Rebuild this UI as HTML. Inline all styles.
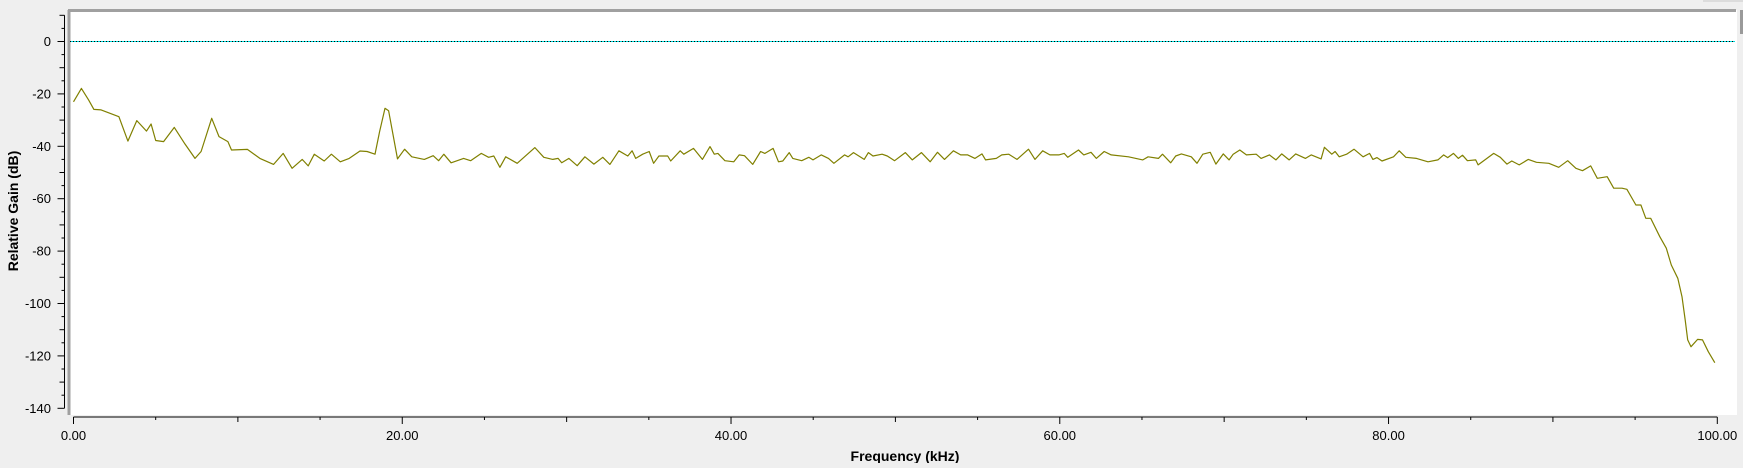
<!DOCTYPE html>
<html><head><meta charset="utf-8">
<style>
html,body{margin:0;padding:0;background:#efefef;}
body{width:1743px;height:463px;overflow:hidden;font-family:"Liberation Sans",sans-serif;}
svg text{font-family:"Liberation Sans",sans-serif;}
</style></head>
<body>
<svg id="chart" width="1743" height="463" xmlns="http://www.w3.org/2000/svg">
  <rect x="68" y="10" width="1669" height="405" fill="#ffffff"/>
  <line x1="69" y1="10" x2="69" y2="415" stroke="#a0a0a0" stroke-width="3"/>
  <line x1="68" y1="10.5" x2="1736" y2="10.5" stroke="#a0a0a0" stroke-width="3"/>
  <rect x="1740" y="10" width="3" height="24" fill="#9a9a9a"/>
  <rect x="1703" y="0" width="40" height="2" fill="#dcdcdc"/>
  <g id="axes"></g>
  <g id="series"></g>
  <text x="0" y="0" transform="translate(18,211) rotate(-90)" text-anchor="middle" font-size="14" font-weight="bold" fill="#000">Relative Gain (dB)</text>
  <text x="905" y="461" text-anchor="middle" font-size="14" font-weight="bold" fill="#000">Frequency (kHz)</text>
</svg>
<script>
const freqs = [0,0.48,0.92,1.24,1.68,2.22,2.76,3.31,3.85,4.44,4.72,5.0,5.48,6.13,6.78,7.39,7.76,8.41,8.85,9.39,9.61,10.58,11.34,12.17,12.76,13.3,13.91,14.28,14.65,15.25,15.69,16.23,16.77,17.43,17.86,18.34,18.62,18.95,19.17,19.71,20.14,20.58,21.34,21.88,22.21,22.53,22.97,23.73,24.16,24.81,25.25,25.57,25.94,26.29,26.99,28.07,28.61,29.16,29.48,29.7,30.14,30.64,31.11,31.66,32.2,32.63,33.18,33.72,33.98,34.2,34.63,35.02,35.29,35.61,36.15,36.33,36.91,37.13,37.72,38.26,38.72,38.98,39.2,39.63,40.17,40.5,40.82,41.32,41.8,42.06,42.56,42.89,43.15,43.54,43.76,44.3,44.73,44.99,45.49,45.93,46.26,46.91,47.12,47.45,48.1,48.36,48.64,49.19,49.51,49.95,50.6,51.03,51.58,52.12,52.56,52.99,53.53,53.97,54.4,54.84,55.27,55.49,56.14,56.47,56.9,57.4,58.1,58.49,58.96,59.4,59.94,60.27,60.49,61.14,61.46,61.9,62.22,62.7,63.13,64.18,65.05,65.37,66,66.25,66.75,67.05,67.4,68,68.35,68.7,69.15,69.5,69.95,70.3,70.55,70.95,71.35,71.95,72.25,72.75,73.15,73.5,73.95,74.35,74.95,75.3,75.9,76.1,76.55,76.75,77,77.45,77.9,78.45,78.85,79.05,79.3,79.6,80.3,80.65,81.05,81.7,82.4,83,83.35,83.6,83.95,84.25,84.5,84.8,85.3,85.45,86.4,86.8,87.2,87.5,87.95,88.5,89,89.75,90.35,90.9,91.4,91.8,92.3,92.7,93.3,93.7,94.2,94.5,95.05,95.35,95.65,95.95,96.5,96.9,97.2,97.6,97.85,98.05,98.2,98.4,98.8,99.1,99.45,99.85];
const gains = [-23,-17.9,-22.3,-25.9,-26.1,-27.4,-28.7,-38,-30.2,-34.2,-31.5,-37.8,-38.2,-32.8,-39.1,-44.6,-42,-29.3,-36.3,-38.2,-41.4,-41.2,-44.6,-46.9,-42.7,-48.4,-45,-47.5,-43,-45.6,-43,-45.9,-44.6,-41.8,-42,-43,-34.4,-25.5,-26.4,-44.8,-41.1,-44,-45,-43.6,-45.5,-43,-46.3,-44.6,-45.5,-42.7,-44.2,-43.7,-48,-44,-46.5,-40.5,-44.2,-45,-44.6,-46.3,-44.6,-47.4,-44,-46.8,-44.2,-46.9,-41.7,-43.7,-41.7,-44.6,-43,-42,-46.5,-43.7,-43.7,-45.6,-41.7,-43,-40.8,-45,-40.1,-43,-42.7,-45.5,-45.9,-43.3,-43.6,-46.9,-42,-42.7,-40.8,-45.9,-45.6,-42.4,-44.6,-45.5,-44.2,-45.2,-43.3,-44.6,-46.5,-43.3,-44,-42.4,-45,-42.4,-43.7,-43,-43.7,-45.5,-42.4,-45.2,-42.4,-45.9,-42.3,-45,-41.7,-43.3,-43.3,-44.6,-42.9,-45.2,-44.6,-43.3,-43,-45,-41.1,-45,-41.7,-43.3,-43.3,-42.7,-44.2,-41.4,-43.3,-42.3,-44.6,-42,-43.3,-44,-45.2,-44,-44.6,-43,-46.3,-43.7,-42.9,-44,-46.5,-43,-42.3,-46.8,-42.9,-45.2,-43,-41.4,-43.3,-43,-44.6,-43.3,-45.2,-42.9,-45.2,-42.9,-44.6,-43.3,-44.8,-40.4,-43,-42,-44,-43,-41.1,-44,-42.7,-45,-44.3,-45.6,-44,-41.7,-44.2,-44.6,-45.9,-45.2,-43.3,-44.3,-42.7,-44.6,-43.4,-45.5,-45.2,-47.1,-42.7,-44.2,-46.8,-45.6,-47.1,-45,-46.1,-46.5,-48,-45.5,-48.4,-49.3,-47.5,-52.2,-51.6,-56,-56,-56.4,-62.4,-62.4,-67.5,-67.5,-74.5,-78.9,-85.3,-90.4,-97.4,-106.3,-113.9,-116.5,-113.7,-113.9,-118.4,-122.6];
const xTickLabels = ["0.00","20.00","40.00","60.00","80.00","100.00"];
const yTickLabels = ["0","-20","-40","-60","-80","-100","-120","-140"];

const NS = "http://www.w3.org/2000/svg";
const X0 = 73.5, X1 = 1717.3, Y0 = 41.5, PERDB = 2.62;
function xs(k){ return X0 + (X1 - X0) * k / 100; }
function ys(d){ return Y0 - d * PERDB; }
function mk(tag, attrs, parent){ const e = document.createElementNS(NS, tag); for (const k in attrs) e.setAttribute(k, attrs[k]); parent.appendChild(e); return e; }

const axes = document.getElementById('axes');
let xl = mk('line', {x1: xs(0), y1: 417, x2: xs(100), y2: 417, stroke: '#000', 'stroke-width': 1}, axes);


for (let k = 0; k <= 100; k += 5) {
  const len = k % 20 === 0 ? 7 : (k % 10 === 0 ? 5 : 3);
  const t = mk('line', {x1: xs(k), y1: 417, x2: xs(k), y2: 417 + len, stroke: '#000', 'stroke-width': 1}, axes);
  
  
}
xTickLabels.forEach((s, i) => {
  const t = mk('text', {x: xs(i * 20), y: 440, 'text-anchor': 'middle', 'font-size': 13, fill: '#000'}, axes);
  t.textContent = s;
  
  
});
let yl = mk('line', {x1: 64.5, y1: ys(10), x2: 64.5, y2: ys(-140), stroke: '#000', 'stroke-width': 1}, axes);


for (let d = 10; d >= -140; d -= 5) {
  const len = d % 20 === 0 ? 7 : (d % 10 === 0 ? 5 : 3);
  const t = mk('line', {x1: 64.5 - len, y1: ys(d), x2: 64.5, y2: ys(d), stroke: '#000', 'stroke-width': 1}, axes);
  
  
}
yTickLabels.forEach((s, i) => {
  const t = mk('text', {x: 51, y: ys(-20 * i) + 4.5, 'text-anchor': 'end', 'font-size': 13, fill: '#000'}, axes);
  t.textContent = s;
  
  
});
const z1 = mk('line', {x1: 70, y1: ys(0), x2: 1735, y2: ys(0), stroke: '#00e0e0', 'stroke-width': 1}, axes);


const z2 = mk('line', {x1: 70, y1: ys(0), x2: 1735, y2: ys(0), stroke: '#000', 'stroke-width': 1, 'stroke-dasharray': '1,2'}, axes);



const pts = freqs.map((f, i) => xs(f).toFixed(1) + ',' + ys(gains[i]).toFixed(1)).join(' ');
const pl = mk('polyline', {points: pts, fill: 'none', stroke: '#808000', 'stroke-width': 1.2, 'stroke-linejoin': 'round'}, document.getElementById('series'));


</script>
</body></html>
